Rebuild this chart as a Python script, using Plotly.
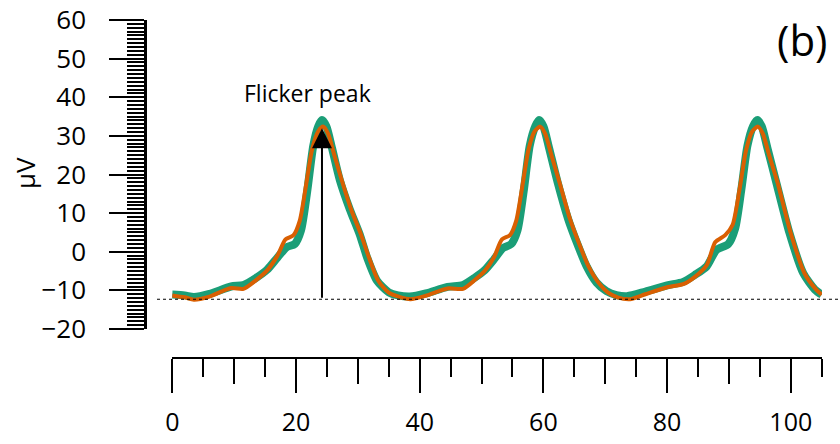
import plotly.graph_objects as go

# Time (ms) and amplitude (µV) for the two traces
t_green = [0, 2, 3.5, 6, 9.5, 11.5, 13.5, 15.3, 17, 18.5, 19.8, 20.8, 21.8, 22.8, 23.6, 24.2, 24.9, 25.8,
           27.1, 28.7, 30.3, 31.5, 33.1, 35, 36.5, 38.4, 41, 44.5, 47, 49, 50.5, 52, 53.5, 54.8, 55.8,
           56.8, 57.8, 58.7, 59.3, 60.0, 60.9, 62.3, 64.0, 65.5, 67, 68.6, 70.2, 71.8, 73.5, 76.5, 80,
           82.6, 84.5, 86.4, 88, 89.9, 91.0, 92.0, 93.0, 93.9, 94.6, 95.3, 96.2, 97.7, 99.8, 102, 103.9, 105]
v_green = [-11.1, -11.3, -11.7, -10.9, -9.0, -8.6, -6.8, -4.7, -1.5, 1.2, 2.0, 5.5, 15.5, 27.5, 32.5, 34.1, 32.5, 27,
           18.5, 11, 4.5, -1.5, -7.5, -10.5, -11.3, -11.6, -10.8, -9.1, -8.6, -6.6, -4.8, -2, 1, 2.0, 5.5,
           15.5, 27.5, 32.5, 34.1, 32.5, 27, 18, 8.5, 2, -3.8, -8, -10.2, -11.2, -11.5, -10.3, -8.7,
           -7.8, -6, -3.8, 0.5, 2.0, 6.0, 16, 27.5, 32.5, 34.1, 32.5, 27, 17.7, 4.8, -5.5, -9.8, -11.1]

t_orange = [0, 2, 3.5, 6, 9.5, 11.5, 13.5, 15.3, 17, 18.3, 19.6, 20.6, 21.6, 22.6, 23.6, 24.4, 25.2, 26.2,
            27.4, 28.9, 30.5, 31.8, 33.3, 35.0, 36.7, 38.5, 41, 44.5, 47, 49, 50.5, 52, 53.3, 54.6, 55.6,
            56.6, 57.6, 58.6, 59.5, 60.3, 61.3, 62.6, 64.3, 65.8, 67.3, 68.9, 70.4, 72.0, 74, 76.5, 80,
            82.6, 84.5, 86.4, 87.8, 89.4, 90.6, 91.7, 92.8, 93.8, 94.7, 95.5, 96.5, 97.9, 100.0, 102.2, 104.0, 105]
v_orange = [-11.3, -11.8, -12.4, -11.6, -9.4, -9.6, -7.4, -4.9, -1.0, 3.2, 4.3, 8, 17, 26.5, 31.2, 32.4, 30.5, 25,
            18.5, 11, 4.5, -1.5, -7.5, -10.6, -11.7, -12.3, -11.4, -9.5, -9.6, -7.2, -5, -1.5, 3.2, 4.3, 8,
            17, 26.5, 31.2, 32.4, 30.5, 25, 18, 8.5, 2, -3.8, -8, -10.5, -11.8, -12.3, -11, -9.2,
            -8.4, -6.5, -3.5, 2.5, 4.3, 7, 16, 26.5, 31.2, 32.4, 30.5, 25, 17.7, 4.8, -5.5, -9.6, -11.1]

baseline = -12.3
peak_time = 24.2
peak_value = 32.0

x_major = [0, 20, 40, 60, 80, 100]
x_mid = [10, 30, 50, 70, 90]
y_major = [-20, -10, 0, 10, 20, 30, 40, 50, 60]

FONT = "Open Sans"
GREEN = "#1b9e77"
ORANGE = "#d95f02"

fig = go.Figure()
fig.add_trace(go.Scatter(x=t_green, y=v_green, mode="lines",
                         line=dict(color=GREEN, width=8, shape="spline", smoothing=0.7),
                         showlegend=False, hoverinfo="skip"))
fig.add_trace(go.Scatter(x=t_orange, y=v_orange, mode="lines",
                         line=dict(color=ORANGE, width=4, shape="spline", smoothing=0.7),
                         showlegend=False, hoverinfo="skip"))
fig.add_trace(go.Scatter(x=[], y=[], xaxis="x2", showlegend=False))

W, H = 840, 444
ml, mr, mt, mb = 145, 18, 20, 86
pw = W - ml - mr
ph = H - mt - mb

fig.update_layout(
    template="none",
    width=W, height=H,
    margin=dict(l=ml, r=mr, t=mt, b=mb, autoexpand=False),
    paper_bgcolor="white", plot_bgcolor="white",
    font=dict(family=FONT, color="black", size=22),
    xaxis=dict(domain=[27 / pw, 1], range=[-0.05, 105.05], anchor="free", position=0, automargin=False,
               showline=True, linewidth=2, linecolor="black", showgrid=False, zeroline=False,
               ticks="outside", tickvals=x_major, ticklen=34, tickwidth=2, tickcolor="black",
               minor=dict(dtick=5, tick0=0, ticks="outside", ticklen=18, tickwidth=2, tickcolor="black",
                          showgrid=False),
               tickfont=dict(size=25, family=FONT), ticklabelstandoff=8),
    xaxis2=dict(overlaying="x", range=[-0.05, 105.05], anchor="free", position=0, automargin=False,
                showline=False, showgrid=False, zeroline=False,
                ticks="outside", tickvals=x_mid, ticklen=25, tickwidth=2, tickcolor="black",
                showticklabels=False),
    yaxis=dict(domain=[29 / ph, 1], range=[-20, 60], anchor="free", position=0, automargin=False,
               showline=True, linewidth=2.5, linecolor="black", showgrid=False, zeroline=False,
               ticks="outside", tickvals=y_major, ticklen=35, tickwidth=2.2, tickcolor="black",
               minor=dict(dtick=1, tick0=0, ticks="outside", ticklen=17, tickwidth=1.8, tickcolor="black",
                          showgrid=False),
               tickfont=dict(size=26, family=FONT), ticklabelstandoff=18),
)

fig.add_shape(type="line", xref="paper", yref="y", x0=12 / pw, x1=1.05, y0=baseline, y1=baseline,
              line=dict(color="black", width=1.2, dash="dot"))

fig.add_annotation(x=peak_time, y=peak_value, ax=peak_time, ay=baseline, xref="x", yref="y",
                   axref="x", ayref="y", text="", showarrow=True, arrowhead=2, arrowsize=2.0,
                   arrowwidth=2, arrowcolor="black")
fig.add_annotation(x=21.8, y=41.1, xref="x", yref="y", text="Flicker peak", showarrow=False,
                   xanchor="center", yanchor="middle",
                   font=dict(size=23, family=FONT, color="black"))
fig.add_annotation(x=(802 - ml) / pw, y=(H - mb - 40) / ph, xref="paper", yref="paper", text="(b)",
                   showarrow=False, xanchor="center", yanchor="middle",
                   font=dict(size=42, family=FONT, color="black"))
fig.add_annotation(x=(25 - ml) / pw, y=(H - mb - 173) / ph, xref="paper", yref="paper", text="μV",
                   showarrow=False, textangle=-90, xanchor="center", yanchor="middle",
                   font=dict(size=26, family=FONT, color="black"))

fig.write_html("out.html")
